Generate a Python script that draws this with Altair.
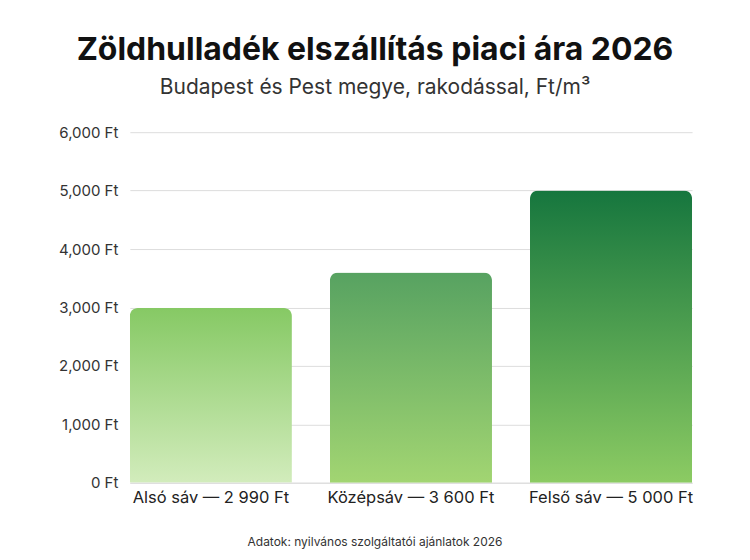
import altair as alt
import pandas as pd

categories = ["Alsó sáv — 2 990 Ft", "Középsáv — 3 600 Ft", "Felső sáv — 5 000 Ft"]
values = [2990, 3600, 5000]
top_colors = ["#86c964", "#57a261", "#16763e"]
bottom_colors = ["#d2ecbc", "#a2d572", "#8ccb63"]

df = pd.DataFrame({"cat": categories, "value": values})

x = alt.X("cat:N", sort=categories,
          scale=alt.Scale(paddingInner=0.19, paddingOuter=0),
          axis=alt.Axis(title="Adatok: nyilvános szolgáltatói ajánlatok 2026",
                        labelAngle=0, labelFontSize=16.5, labelColor="#222222",
                        labelFont="Inter", labelPadding=7, ticks=False,
                        domain=True, domainColor="#dddddd",
                        titleFont="Inter", titleFontSize=12, titleFontWeight="normal",
                        titleColor="#333333", titlePadding=30, titleX=245,
                        titleAnchor="start", titleAlign="center"))
y = alt.Y("value:Q", scale=alt.Scale(domain=[0, 6000]),
          axis=alt.Axis(title=None, values=[0, 1000, 2000, 3000, 4000, 5000, 6000],
                        labelExpr="format(datum.value, ',') + ' Ft'",
                        labelFontSize=15, labelColor="#333333", labelFont="Inter",
                        labelPadding=12, ticks=False, domain=False,
                        gridColor="#dddddd", minExtent=122, maxExtent=122))

layers = []
for c, t, b in zip(categories, top_colors, bottom_colors):
    grad = alt.Gradient(gradient="linear", x1=0, y1=0, x2=0, y2=1,
                        stops=[alt.GradientStop(color=t, offset=0),
                               alt.GradientStop(color=b, offset=1)])
    layers.append(
        alt.Chart(df).transform_filter(alt.datum.cat == c)
        .mark_bar(fill=grad, cornerRadiusTopLeft=8, cornerRadiusTopRight=8)
        .encode(x=x, y=y)
    )

chart = alt.layer(*layers).properties(
    width=563, height=351,
    padding={"left": 0, "top": 26, "right": 49, "bottom": 6},
    title=alt.TitleParams(
        text="Zöldhulladék elszállítás piaci ára 2026",
        subtitle="Budapest és Pest megye, rakodással, Ft/m³",
        font="Inter", fontSize=32, fontWeight="bold", color="#111111",
        subtitleFont="Inter", subtitleFontSize=21, subtitleColor="#333333",
        subtitlePadding=10, anchor="middle", frame="group", dx=-36, offset=26),
).configure_view(stroke=None)

chart.save("out.html", embed_options={"renderer": "svg", "actions": False})
